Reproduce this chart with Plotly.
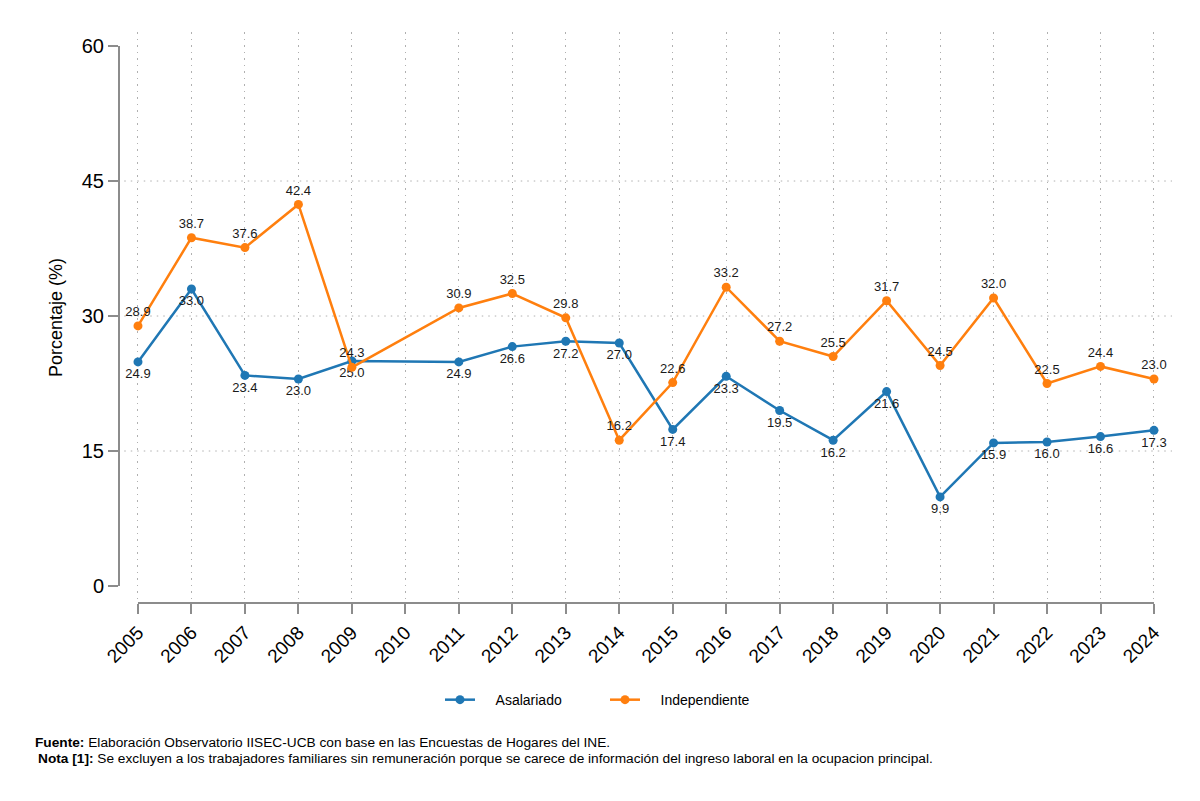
import plotly.graph_objects as go

years = list(range(2005, 2025))
asalariado = [24.9, 33.0, 23.4, 23.0, 25.0, None, 24.9, 26.6, 27.2, 27.0,
              17.4, 23.3, 19.5, 16.2, 21.6, 9.9, 15.9, 16.0, 16.6, 17.3]
independiente = [28.9, 38.7, 37.6, 42.4, 24.3, None, 30.9, 32.5, 29.8, 16.2,
                 22.6, 33.2, 27.2, 25.5, 31.7, 24.5, 32.0, 22.5, 24.4, 23.0]
y_ticks = [0, 15, 30, 45, 60]
grid_y = [15, 30, 45]

BLUE = "#1f77b4"
ORANGE = "#ff7f0e"
AXIS = "#8c8c8c"
GRID = "#b0b0b0"
DOT = "1.5px,5px"
FONT = "Liberation Sans, Arial, sans-serif"
NB = "\u00a0"


def fmt(v):
    return "" if v is None else f"{v:.1f}"


fig = go.Figure()
fig.add_trace(go.Scatter(
    x=years, y=asalariado, name=NB * 4 + "Asalariado", mode="lines+markers+text",
    connectgaps=True,
    line=dict(color=BLUE, width=2.5), marker=dict(color=BLUE, size=9),
    text=[fmt(v) for v in asalariado], textposition="bottom center",
    textfont=dict(family=FONT, size=13, color="#1a1a1a"),
))
fig.add_trace(go.Scatter(
    x=years, y=independiente, name=NB * 4 + "Independiente", mode="lines+markers+text",
    connectgaps=True,
    line=dict(color=ORANGE, width=2.5), marker=dict(color=ORANGE, size=9),
    text=[fmt(v) for v in independiente], textposition="top center",
    textfont=dict(family=FONT, size=13, color="#1a1a1a"),
))

shapes = []
for g in grid_y:
    shapes.append(dict(type="line", xref="paper", yref="y", x0=0.005, x1=1, y0=g, y1=g,
                       line=dict(color=GRID, width=1, dash=DOT), layer="below"))
# axis lines spanning the tick range
shapes.append(dict(type="line", xref="paper", yref="y", x0=0, x1=0, y0=min(y_ticks), y1=max(y_ticks),
                   line=dict(color=AXIS, width=2)))
shapes.append(dict(type="line", xref="x", yref="paper", x0=years[0], x1=years[-1], y0=0, y1=0,
                   line=dict(color=AXIS, width=2)))

fig.update_layout(
    width=1200, height=801,
    margin=dict(l=119, r=28, t=32, b=198),
    paper_bgcolor="white", plot_bgcolor="white",
    font=dict(family=FONT, color="black"),
    shapes=shapes,
    showlegend=True,
    legend=dict(orientation="h", x=(440 - 119) / 1053, xanchor="left", y=-0.17, yanchor="middle",
                font=dict(family=FONT, size=14, color="black"),
                entrywidth=120, entrywidthmode="pixels",
                traceorder="normal"),
    xaxis=dict(range=[2004.645, 2024.337], tickvals=years, ticktext=[str(y) for y in years],
               tickangle=-45, ticks="outside", ticklen=10, tickwidth=2, tickcolor=AXIS,
               showline=False, zeroline=False,
               showgrid=True, griddash=DOT, gridcolor=GRID, gridwidth=1,
               tickfont=dict(family=FONT, size=19, color="black")),
    yaxis=dict(range=[-1.89, 61.56], tickvals=y_ticks, ticks="outside", ticklen=10, tickwidth=2,
               tickcolor=AXIS, showline=False, zeroline=False, showgrid=False,
               tickfont=dict(family=FONT, size=20, color="black"),
               title=dict(text="Porcentaje (%)", font=dict(family=FONT, size=18, color="black"),
                          standoff=14)),
    annotations=[
        dict(xref="paper", yref="paper", x=(33 - 119) / 1053, y=-0.245, xanchor="left", yanchor="middle",
             showarrow=False, align="left",
             text="<b>Fuente:</b> Elaboración Observatorio IISEC-UCB con base en las Encuestas de Hogares del INE.",
             font=dict(family=FONT, size=13.7, color="black")),
        dict(xref="paper", yref="paper", x=(36 - 119) / 1053, y=-0.273, xanchor="left", yanchor="middle",
             showarrow=False, align="left",
             text="<b>Nota [1]:</b> Se excluyen a los trabajadores familiares sin remuneración porque se carece de información del ingreso laboral en la ocupacion principal.",
             font=dict(family=FONT, size=13.7, color="black")),
    ],
)

fig.write_html("out.html")
